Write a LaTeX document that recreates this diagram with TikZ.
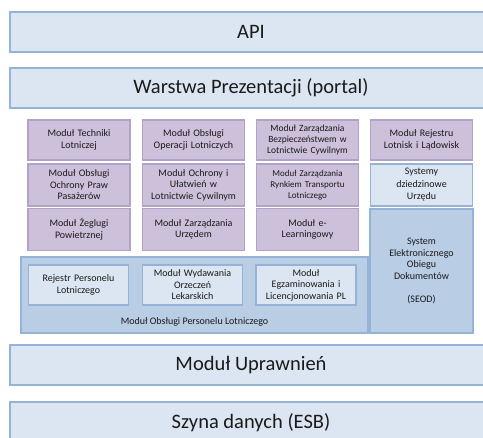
\documentclass[tikz,border=0pt]{standalone}
\usepackage{fontspec}
\setmainfont{Carlito}
\definecolor{barfill}{HTML}{DCE6F2}
\definecolor{barline}{HTML}{95B3D7}
\definecolor{modfill}{HTML}{CCC0DA}
\definecolor{modline}{HTML}{B3A2C7}
\definecolor{grpfill}{HTML}{B9CDE5}
\definecolor{tekst}{HTML}{1A1A1A}
\begin{document}
\begin{tikzpicture}[x=1pt,y=-1pt,
  bar/.style={draw=barline,fill=barfill,line width=1.5pt,minimum width=482pt,minimum height=40pt,inner sep=0pt,text=tekst,font=\fontsize{20.5}{24}\selectfont},
  modul/.style={draw=modline,fill=modfill,line width=1.5pt,minimum width=102pt,minimum height=40pt,inner sep=1pt,text width=99pt,align=center,text=tekst,font=\fontsize{10}{11.5}\selectfont},
  sysbox/.style={modul,draw=barline,fill=barfill},
  grupa/.style={draw=barline,fill=grpfill,line width=1.5pt,inner sep=0pt},
  podmodul/.style={modul,draw=barline,fill=barfill,minimum width=100pt,text width=97pt}]
\useasboundingbox (0,0) rectangle (483,438);
% warstwy gorne
\node[bar] (api) at (251,32) {API};
\node[bar] (portal) at (251,88) {Warstwa Prezentacji (portal)};
% moduly - wiersz 1
\node[modul] (techniki) at (79,140) {Moduł Techniki\\Lotniczej};
\node[modul] (operacje) at (193.5,140) {Moduł Obsługi\\Operacji Lotniczych};
\node[modul,font=\fontsize{9.5}{10.8}\selectfont] (bezpieczenstwo) at (307.5,140) {Moduł Zarządzania\\Bezpieczeństwem w\\Lotnictwie Cywilnym};
\node[modul] (lotniska) at (421.5,140) {Moduł Rejestru\\Lotnisk i Lądowisk};
% moduly - wiersz 2
\node[modul,minimum height=42pt] (pasazerowie) at (79,185) {Moduł Obsługi\\Ochrony Praw\\Pasażerów};
\node[modul,minimum height=42pt] (ochrona) at (193.5,185) {Moduł Ochrony i\\Ułatwień w\\Lotnictwie Cywilnym};
\node[modul,minimum height=42pt,font=\fontsize{9}{10.8}\selectfont] (rynek) at (307.5,185) {Moduł Zarządzania\\Rynkiem Transportu\\Lotniczego};
\node[sysbox,minimum height=42pt,font=\fontsize{10}{12.5}\selectfont] (dziedzinowe) at (421.5,185) {Systemy\\dziedzinowe\\Urzędu};
% moduly - wiersz 3
\node[modul,minimum height=42pt] (zegluga) at (79,229.5) {Moduł Żeglugi\\Powietrznej};
\node[modul,minimum height=42pt] (urzad) at (193.5,229.5) {Moduł Zarządzania\\Urzędem};
\node[modul,minimum height=42pt] (elearning) at (307.5,229.5) {Moduł e-\\Learningowy};
% personel lotniczy
\node[grupa,minimum width=347pt,minimum height=76pt] (personel) at (194.5,295) {};
\node[podmodul] (rejestr) at (78.5,285) {Rejestr Personelu\\Lotniczego};
\node[podmodul] (orzeczenia) at (192.5,285) {Moduł Wydawania\\Orzeczeń\\Lekarskich};
\node[podmodul] (egzaminy) at (306,285) {Moduł\\Egzaminowania i\\Licencjonowania PL};
\node[text=tekst,font=\fontsize{10}{12}\selectfont] (personellabel) at (194.5,322) {Moduł Obsługi Personelu Lotniczego};
% SEOD
\node[grupa,minimum width=103pt,minimum height=124pt,align=center,text=tekst,font=\fontsize{10}{11.5}\selectfont] (seod) at (421.5,271) {System\\Elektronicznego\\Obiegu\\Dokumentów\\[11.5pt](SEOD)};
% warstwy dolne
\node[bar] (uprawnienia) at (251,365) {Moduł Uprawnień};
\node[bar,minimum height=42pt] (esb) at (251,423) {Szyna danych (ESB)};
\end{tikzpicture}
\end{document}
